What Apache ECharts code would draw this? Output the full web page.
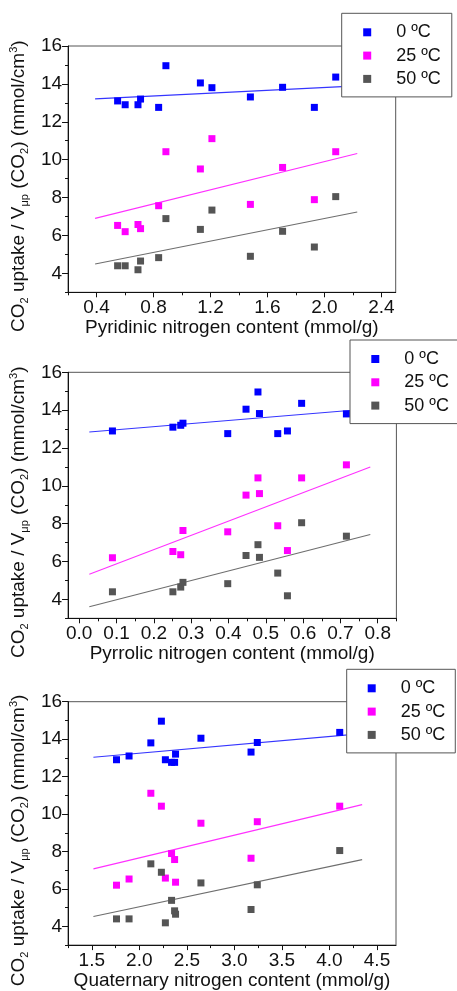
<!DOCTYPE html>
<html>
<head>
<meta charset="utf-8">
<script src="https://cdn.jsdelivr.net/npm/echarts@6/dist/echarts.min.js"></script>
<style>
  html, body { margin: 0; padding: 0; background: #fff; }
  #chart { width: 457px; height: 991px; }
</style>
</head>
<body>
<div id="chart"></div>
<script>
// CO2 uptake (normalised by ultramicropore volume) of twelve N-doped carbons
// at three temperatures, plotted against three nitrogen species contents.

const seriesNames = ['0 ºC', '25 ºC', '50 ºC'];

// CO2 uptake / V_up(CO2), mmol/cm3, one value per sample
const uptake0C  = [13.10, 12.90, 12.90, 13.20, 12.76, 14.96, 14.05, 13.80, 13.31, 13.82, 12.76, 14.36];
const uptake25C = [6.53, 6.20, 6.58, 6.36, 7.57, 10.42, 9.51, 11.11, 7.64, 9.59, 7.89, 10.42];
const uptake50C = [4.40, 4.40, 4.19, 4.65, 4.83, 6.89, 6.32, 7.34, 4.90, 6.22, 5.39, 8.05];

// nitrogen species contents of the same samples, mmol/g
const pyridinicN  = [0.548, 0.601, 0.691, 0.709, 0.836, 0.887, 1.129, 1.210, 1.480, 1.706, 1.929, 2.079];
const pyrrolicN   = [0.251, 0.089, 0.558, 0.272, 0.398, 0.479, 0.447, 0.716, 0.278, 0.483, 0.532, 0.596];
const quaternaryN = [1.892, 1.760, 2.274, 2.381, 2.371, 2.232, 2.648, 2.121, 3.175, 3.241, 2.339, 4.108];

// x span over which each linear fit is drawn
const pyridinicFitRange  = [0.39, 2.23];
const pyrrolicFitRange   = [0.027, 0.78];
const quaternaryFitRange = [1.517, 4.344];

// tick labels
const pyridinicTicks  = [0.4, 0.8, 1.2, 1.6, 2.0, 2.4];
const pyrrolicTicks   = [0.0, 0.1, 0.2, 0.3, 0.4, 0.5, 0.6, 0.7, 0.8];
const quaternaryTicks = [1.5, 2.0, 2.5, 3.0, 3.5, 4.0, 4.5];
const uptakeTicks     = [4, 6, 8, 10, 12, 14, 16];

const FONT = "'Liberation Sans', Arial, sans-serif";
const INK = '#111';
const colors = ['#0000ff', '#ff00ff', '#555555'];
const fitColors = ['#3535ff', '#ff30ff', '#6e6e6e'];

function linearFit(xs, ys) {
  const n = xs.length;
  const mx = xs.reduce((a, b) => a + b, 0) / n;
  const my = ys.reduce((a, b) => a + b, 0) / n;
  let sxy = 0, sxx = 0;
  for (let i = 0; i < n; i++) {
    sxy += (xs[i] - mx) * (ys[i] - my);
    sxx += (xs[i] - mx) * (xs[i] - mx);
  }
  const slope = sxy / sxx;
  return { slope, intercept: my - slope * mx };
}

function minorOf(majors, lo, hi) {
  const step = majors[1] - majors[0];
  const out = majors.map(v => v - step / 2).concat([majors[majors.length - 1] + step / 2]);
  return out.filter(v => v >= lo - 1e-9 && v <= hi + 1e-9).map(v => +v.toFixed(4));
}

const panels = [
  { x: pyridinicN, fit: pyridinicFitRange, ticks: pyridinicTicks, min: 0.2, max: 2.5,
    title: 'Pyridinic nitrogen content (mmol/g)',
    grid: { left: 63.3, top: 46, width: 332.4, height: 246.3 },
    legend: { left: 341.7, top: 13.3, padding: [9, 11, 8, 21.5] } },
  { x: pyrrolicN, fit: pyrrolicFitRange, ticks: pyrrolicTicks, min: -0.03, max: 0.85,
    title: 'Pyrrolic nitrogen content (mmol/g)',
    grid: { left: 65, top: 372.3, width: 331.4, height: 246 },
    legend: { left: 350, top: 340, padding: [9, 10, 8, 21.3] } },
  { x: quaternaryN, fit: quaternaryFitRange, ticks: quaternaryTicks, min: 1.25, max: 4.7,
    title: 'Quaternary nitrogen content (mmol/g)',
    grid: { left: 64, top: 701.7, width: 332, height: 245.6 },
    legend: { left: 346.7, top: 669.3, padding: [9, 10, 8, 21] } }
];

const uptakeSets = [uptake0C, uptake25C, uptake50C];
const yMin = 3, yMax = 16;

const yName = '{n|CO}{s|2}{n| uptake / V}{s|μp}{n| (CO}{s|2}{n|) (mmol/cm}{u|3}{n|)}';

const grids = [], xAxes = [], yAxes = [], series = [], legends = [];

panels.forEach((p, i) => {
  grids.push(Object.assign({ show: true, borderColor: '#555', borderWidth: 1, backgroundColor: 'transparent' }, p.grid));

  // major x axis with labels
  xAxes.push({
    gridIndex: i, type: 'value', min: p.min, max: p.max, position: 'bottom',
    axisLine: { show: true, onZero: false, lineStyle: { color: INK, width: 1 } },
    axisTick: { show: true, length: 5, customValues: p.ticks, lineStyle: { color: INK } },
    axisLabel: { show: true, customValues: p.ticks, formatter: v => v.toFixed(1),
      fontSize: 19, fontFamily: FONT, color: INK, margin: 6 },
    splitLine: { show: false },
    name: p.title, nameLocation: 'middle', nameGap: 24,
    nameTextStyle: { fontSize: 19, fontFamily: FONT, color: INK }
  });
  // minor x ticks
  xAxes.push({
    gridIndex: i, type: 'value', min: p.min, max: p.max, position: 'bottom',
    axisLine: { show: false, onZero: false },
    axisTick: { show: true, length: 3, customValues: minorOf(p.ticks, p.min, p.max), lineStyle: { color: INK } },
    axisLabel: { show: false }, splitLine: { show: false }
  });

  yAxes.push({
    gridIndex: i, type: 'value', min: yMin, max: yMax, position: 'left',
    axisLine: { show: true, onZero: false, lineStyle: { color: INK, width: 1 } },
    axisTick: { show: true, length: 6, customValues: uptakeTicks, lineStyle: { color: INK } },
    axisLabel: { show: true, customValues: uptakeTicks, fontSize: 19, fontFamily: FONT, color: INK, margin: 6 },
    splitLine: { show: false },
    name: yName, nameLocation: 'middle', nameGap: 30,
    nameTextStyle: {
      fontFamily: FONT, color: INK, padding: [0, 34, 0, 0],
      rich: {
        n: { fontSize: 19, lineHeight: 22, fontFamily: FONT, color: INK },
        s: { fontSize: 11, lineHeight: 10, verticalAlign: 'bottom', fontFamily: FONT, color: INK },
        u: { fontSize: 11, lineHeight: 11, verticalAlign: 'top', fontFamily: FONT, color: INK }
      }
    }
  });
  yAxes.push({
    gridIndex: i, type: 'value', min: yMin, max: yMax, position: 'left',
    axisLine: { show: false, onZero: false },
    axisTick: { show: true, length: 3, customValues: minorOf(uptakeTicks, yMin, yMax), lineStyle: { color: INK } },
    axisLabel: { show: false }, splitLine: { show: false }
  });

  uptakeSets.forEach((ys, k) => {
    const f = linearFit(p.x, ys);
    series.push({
      name: 'fit ' + seriesNames[k], type: 'line', xAxisIndex: 2 * i, yAxisIndex: 2 * i,
      data: p.fit.map(x => [x, f.intercept + f.slope * x]),
      showSymbol: false, symbol: 'none', silent: true, z: 2,
      lineStyle: { color: fitColors[k], width: 1.1 }
    });
  });
  uptakeSets.forEach((ys, k) => {
    series.push({
      name: seriesNames[k], type: 'scatter', xAxisIndex: 2 * i, yAxisIndex: 2 * i,
      data: p.x.map((x, j) => [x, ys[j]]),
      symbol: 'rect', symbolSize: 7, z: 3,
      itemStyle: { color: colors[k], opacity: 1 }
    });
  });

  legends.push({
    data: seriesNames, orient: 'vertical', left: p.legend.left, top: p.legend.top,
    padding: p.legend.padding, icon: 'rect', itemWidth: 8, itemHeight: 8, itemGap: 3.3,
    backgroundColor: '#fff', borderColor: '#555', borderWidth: 1, borderRadius: 0,
    selectedMode: false, z: 10,
    textStyle: { fontSize: 18, lineHeight: 20, fontFamily: FONT, color: INK, padding: [0, 0, 0, 20] }
  });
});

const chart = echarts.init(document.getElementById('chart'), null, { renderer: 'canvas' });
chart.setOption({
  animation: false,
  backgroundColor: '#fff',
  color: colors,
  textStyle: { fontFamily: FONT },
  grid: grids,
  xAxis: xAxes,
  yAxis: yAxes,
  legend: legends,
  series: series
});
</script>
</body>
</html>
